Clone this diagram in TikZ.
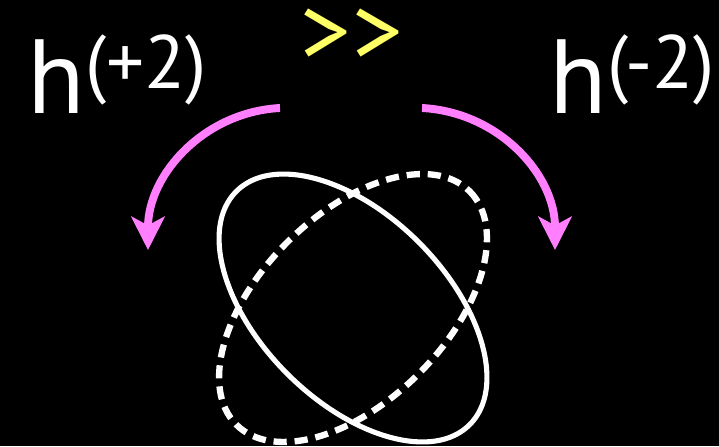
\documentclass[tikz,border=0pt]{standalone}
\usepackage{fontspec}
\setmainfont{PT Sans}
\usetikzlibrary{arrows.meta,positioning}
\definecolor{spinpink}{HTML}{FF7FFF}
\definecolor{gtyellow}{HTML}{FFFF66}
\tikzset{
  helab/.style={text=white,inner sep=0pt,anchor=base west,font=\fontsize{60}{60}\selectfont},
  rotarrow/.style={draw=spinpink,line width=4.5pt,-{Stealth[length=19pt,width=19pt,inset=5pt]}},
  ringsolid/.style={draw=white,line width=2.9pt},
  ringdash/.style={draw=white,line width=3.6pt,dash pattern=on 7.5pt off 4.5pt}
}
\newcommand{\hlab}[1]{h\raisebox{14pt}{\fontsize{43}{43}\selectfont #1}}
\begin{document}
\begin{tikzpicture}[x=0.02cm,y=-0.02cm]
\fill[black] (0,0) rectangle (719,446);
\useasboundingbox (0,0) rectangle (719,446);
% polarisation labels
\node[helab] (hplus) at (27,113) {\hlab{(+2)}};
\node[helab] (hminus) at (549,113) {\hlab{(-2)}};
\node[text=gtyellow,inner sep=0pt,anchor=center,font=\fontsize{57}{57}\selectfont] (gg) at (352,37) {>\kern1pt>};
% arrow ends
\coordinate (lstart) at (280,108);
\coordinate (lend) at (148,250);
\coordinate (rstart) at (422,108);
\coordinate (rend) at (555,250);
\draw[rotarrow] (lstart) to[out=183,in=90] (lend);
\draw[rotarrow] (rstart) to[out=-3,in=90] (rend);
% rings
\draw[ringdash] (353,308) ellipse[x radius=165,y radius=93,rotate=45];
\draw[ringsolid] (353,308) ellipse[x radius=165,y radius=93,rotate=-45];
\end{tikzpicture}
\end{document}
